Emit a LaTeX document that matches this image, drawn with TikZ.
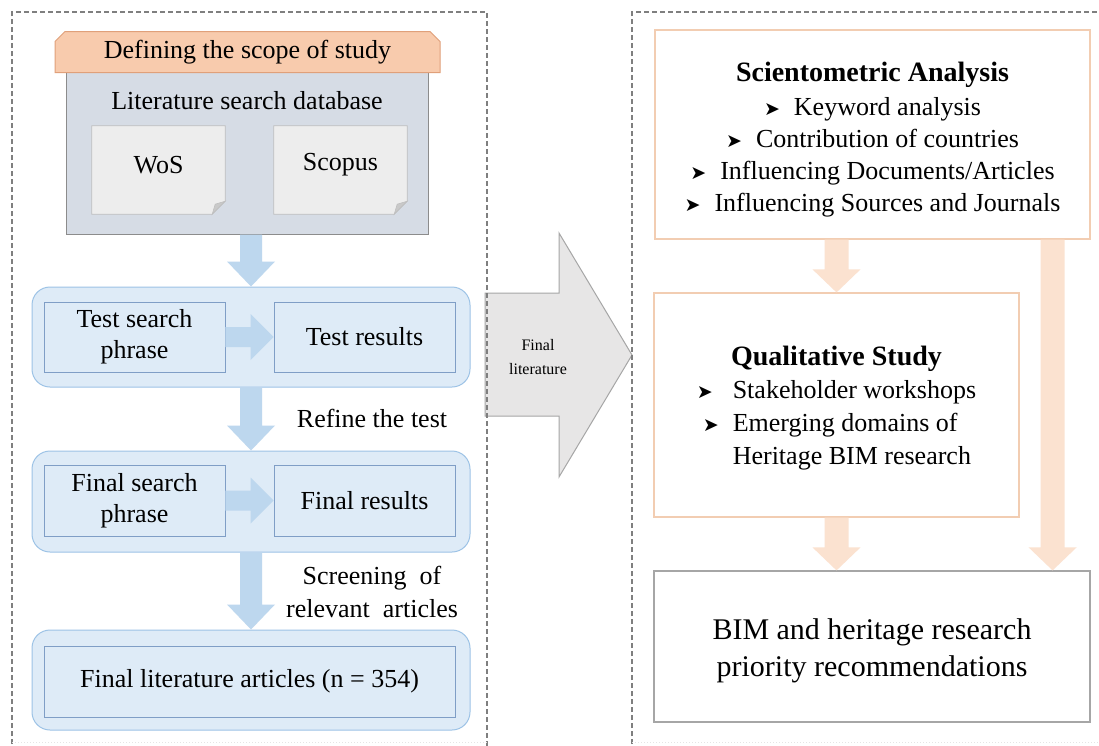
\documentclass[tikz,border=0pt]{standalone}
\usepackage{fontspec}
\setmainfont{Liberation Serif}
\newfontfamily\dejavu{DejaVu Sans}
\usetikzlibrary{shapes.misc,calc}
\definecolor{tabfill}{HTML}{F8CBAD}
\definecolor{tabdraw}{HTML}{E0A07A}
\definecolor{grayfill}{HTML}{D6DCE5}
\definecolor{graydraw}{HTML}{8C8C8C}
\definecolor{docfill}{HTML}{EDEDED}
\definecolor{docdraw}{HTML}{BFBFBF}
\definecolor{foldfill}{HTML}{C9C9C9}
\definecolor{grpfill}{HTML}{DEEBF7}
\definecolor{grpdraw}{HTML}{9DC3E6}
\definecolor{iboxdraw}{HTML}{7F9EC6}
\definecolor{bluearrow}{HTML}{BDD7EE}
\definecolor{bigfill}{HTML}{E7E6E6}
\definecolor{bigdraw}{HTML}{A6A6A6}
\definecolor{obdraw}{HTML}{F2CDB2}
\definecolor{orarrow}{HTML}{FBE2D0}
\definecolor{findraw}{HTML}{A6A6A6}
\definecolor{dashcol}{HTML}{7F7F7F}
\newcommand{\bulsym}{{\dejavu\fontsize{19}{19}\selectfont ➤}}
\newcommand{\titlefont}{\fontsize{28}{32}\selectfont\bfseries}
% vertical block arrow: #1 colour, #2 start, #3 end, #4 shaft half, #5 head half, #6 head length
\newcommand{\vblockarrow}[6]{%
  \fill[#1] let \p1=(#2), \p2=(#3) in
    (\x1-#4,\y1) -- (\x1+#4,\y1) -- (\x1+#4,\y2+#6) -- (\x1+#5,\y2+#6) --
    (\x1,\y2) -- (\x1-#5,\y2+#6) -- (\x1-#4,\y2+#6) -- cycle;}
% horizontal block arrow
\newcommand{\hblockarrow}[6]{%
  \fill[#1] let \p1=(#2), \p2=(#3) in
    (\x1,\y1+#4) -- (\x2-#6,\y1+#4) -- (\x2-#6,\y1+#5) -- (\x2,\y1) --
    (\x2-#6,\y1-#5) -- (\x2-#6,\y1-#4) -- (\x1,\y1-#4) -- cycle;}
\begin{document}
\begin{tikzpicture}[x=1pt,y=-1pt,
  every node/.style={font=\fontsize{26}{31}\selectfont, inner sep=0pt},
  group/.style={rounded corners=18pt, fill=grpfill, draw=grpdraw, line width=1pt},
  ibox/.style={fill=grpfill, draw=iboxdraw, line width=0.8pt, align=center},
  obox/.style={fill=white, draw=obdraw, line width=1.2pt},
  dashbox/.style={draw=dashcol, line width=1.5pt, dash pattern=on 5pt off 3pt}]
\useasboundingbox (0,0) rectangle (1099,745);
\clip (0,0) rectangle (1099,745);
\fill[white] (0,0) rectangle (1099,745);

% ---------- left column ----------
\node[fill=grayfill, draw=graydraw, line width=1pt, minimum width=362pt, minimum height=162pt] (db) at (247,153) {};
\node[chamfered rectangle, chamfered rectangle corners={north west,north east},
      chamfered rectangle xsep=5pt, chamfered rectangle ysep=5pt,
      fill=tabfill, draw=tabdraw, line width=1pt, minimum width=385pt, minimum height=41pt] (scope) at (247.5,52) {Defining\ the scope of study};
\node (dblabel) at (247,101) {Literature\ search\ database};

\node[minimum width=133pt, minimum height=88pt] (wos) at (158.5,170) {};
\node[minimum width=133pt, minimum height=88pt] (scopus) at (340.5,170) {};
\foreach \d in {wos,scopus}{
  \filldraw[fill=docfill, draw=docdraw, line width=0.8pt] (\d.north west) -- (\d.north east) -- ([yshift=13pt]\d.south east) -- ([xshift=-13pt]\d.south east) -- (\d.south west) -- cycle;
  \filldraw[fill=foldfill, draw=docdraw, line width=0.6pt] ([xshift=-13pt]\d.south east) -- ([xshift=-10pt,yshift=10pt]\d.south east) -- ([yshift=13pt]\d.south east) -- cycle;
}
\node (wostxt) at (158.5,165) {WoS};
\node (scopustxt) at (340.5,165) {Scopus};

\node[group, minimum width=438pt, minimum height=100pt] (g1) at (251,337) {};
\node[ibox, minimum width=181pt, minimum height=70pt] (ts) at (134.5,337) {Test\ search\\phrase};
\node[ibox, minimum width=181pt, minimum height=70pt] (tr) at (364.5,337) {Test results};
\hblockarrow{bluearrow}{ts.east}{tr.west}{10pt}{23pt}{23pt}

\node[group, minimum width=438pt, minimum height=101pt] (g2) at (251,501.5) {};
\node[ibox, minimum width=181pt, minimum height=71pt] (fs) at (134.5,500.5) {Final search\\phrase};
\node[ibox, minimum width=181pt, minimum height=71pt] (fr) at (364.5,500.5) {Final results};
\hblockarrow{bluearrow}{fs.east}{fr.west}{10pt}{23pt}{23pt}

\node[group, minimum width=438pt, minimum height=100pt] (g3) at (251,680) {};
\node[ibox, minimum width=411pt, minimum height=71pt] (fl) at (249.5,681.5) {Final literature articles (n = 354)};

\vblockarrow{bluearrow}{db.south -| g1.north}{g1.north}{11pt}{24pt}{25pt}
\vblockarrow{bluearrow}{g1.south}{g2.north}{11pt}{24pt}{25pt}
\vblockarrow{bluearrow}{g2.south}{g3.north}{11pt}{24pt}{25pt}

\node (refine) at (372,418) {Refine the test};
\node[align=center, font=\fontsize{26}{33}\selectfont] (screen) at (372,592) {Screening\ \ of\\relevant\ \ articles};

% ---------- big arrow ----------
\filldraw[fill=bigfill, draw=bigdraw, line width=1pt] (485,293) -- (559,293) -- (559,233) -- (632,355) -- (559,477) -- (559,416) -- (485,416) -- cycle;
\node[font=\fontsize{16}{24}\selectfont, align=center] (finallit) at (538,357) {Final\\literature};

% ---------- right column ----------
\node[obox, minimum width=435pt, minimum height=209pt] (sci) at (872.5,134.5) {};
\node[align=center, font=\fontsize{26}{32}\selectfont] (scitxt) at (872.5,140)
  {{\titlefont Scientometric Analysis}\\[2pt]
   \bulsym\hspace{14pt}Keyword\ analysis\\
   \bulsym\hspace{14pt}Contribution of countries\\
   \bulsym\hspace{14pt}Influencing\ Documents/Articles\\
   \bulsym\hspace{14pt}Influencing\ Sources and Journals};

\node[obox, minimum width=365pt, minimum height=224pt] (qual) at (836.5,405) {};
\node[align=center, font=\fontsize{26}{32}\selectfont] (qualtxt) at (836.5,410)
  {{\titlefont Qualitative Study}\\[4pt]
   \begin{tabular}{@{}l@{\hspace{14pt}}l@{}}
   \bulsym & Stakeholder\ workshops\\[1pt]
   \hspace{6pt}\bulsym & Emerging\ domains\ of\\[1pt]
           & Heritage\ BIM\ research
   \end{tabular}};

\node[fill=white, draw=findraw, line width=1.2pt, minimum width=436pt, minimum height=151pt] (fin) at (872,646.5) {};
\node[align=center, font=\fontsize{30}{37}\selectfont] (fintxt) at (872,651)
  {BIM and heritage research\\priority\ recommendations};

\coordinate (lstart) at ($(sci.south east)+(-38,0)$);
\vblockarrow{orarrow}{sci.south -| qual.north}{qual.north}{12pt}{24pt}{23pt}
\vblockarrow{orarrow}{qual.south}{fin.north}{12pt}{24pt}{23pt}
\vblockarrow{orarrow}{lstart}{lstart |- fin.north}{12pt}{24pt}{23pt}

% ---------- dashed frames ----------
\draw[dashbox] (12,760) -- (12,12) -- (487,12) -- (487,760);
\draw[dashbox] (632,760) -- (632,12) -- (1110,12);
\draw[gray!20, line width=1pt, dotted] (12,742) -- (487,742);
\draw[gray!20, line width=1pt, dotted] (632,742) -- (1099,742);
\end{tikzpicture}
\end{document}
